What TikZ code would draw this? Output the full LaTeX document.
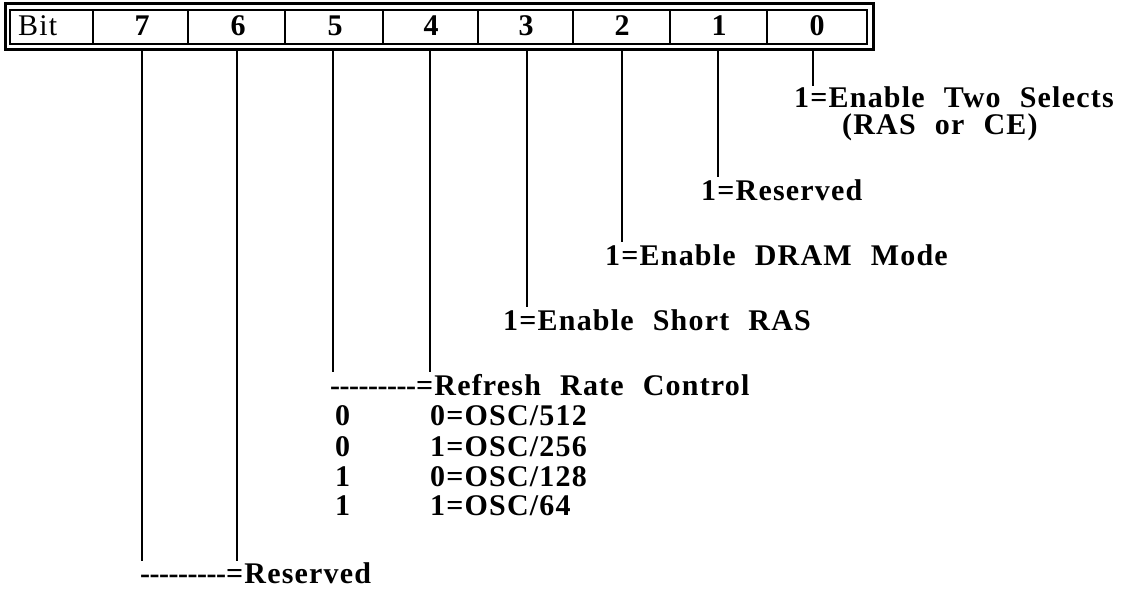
\documentclass[tikz,border=0pt]{standalone}
\usepackage{fontspec}
\newfontfamily\rfont{Liberation Serif}[LetterSpace=4,WordSpace=2.2]
\newcommand\hy{\mbox{-}\hspace{-0.5pt}}
\newcommand\dashes{\hy\hy\hy\hy\hy\hy\hy\hy\mbox{-}}
\begin{document}
\begin{tikzpicture}[x=1pt,y=-1pt,
  txt/.style={anchor=base west,inner sep=0pt,font=\rfont\bfseries\fontsize{30}{32}\selectfont},
  hd/.style={anchor=base,inner sep=0pt,font=\rfont\bfseries\fontsize{30}{32}\selectfont},
  wire/.style={line width=2pt},
  cell/.style={line width=1.8pt}]
\useasboundingbox (0,0) rectangle (1134,591);
% register box
\draw[line width=3pt] (5,4) rectangle (873,50);
\draw[line width=1.4pt] (10,10) rectangle (867,44);
\foreach \x in {93,188,285,383,478,573,670,767}{\draw[cell] (\x,10) -- (\x,44);}
\node[txt,font=\rfont\fontsize{30}{32}\selectfont] (hbit) at (18,36) {Bit};
\node[hd] (h7) at (142,36) {7};
\node[hd] (h6) at (238,36) {6};
\node[hd] (h5) at (335,36) {5};
\node[hd] (h4) at (431,36) {4};
\node[hd] (h3) at (526,36) {3};
\node[hd] (h2) at (622,36) {2};
\node[hd] (h1) at (719,36) {1};
\node[hd] (h0) at (817,36) {0};
% line start points
\foreach \n/\x in {7/142,6/237,5/333,4/430,3/527,2/622,1/718,0/813}{\coordinate (s\n) at (\x,50);}
% labels
\node[txt] (t0) at (794,107) {1=Enable Two Selects};
\node[txt] (t0b) at (842,135) {(RAS or CE)};
\node[txt] (t1) at (701,200) {1=Reserved};
\node[txt] (t2) at (605,265) {1=Enable DRAM Mode};
\node[txt] (t3) at (503,330) {1=Enable Short RAS};
\node[txt] (t54) at (330,395) {\dashes=Refresh Rate Control};
\node[txt] (r1a) at (335,425) {0};
\node[txt] (r1b) at (430,425) {0=OSC/512};
\node[txt] (r2a) at (335,456) {0};
\node[txt] (r2b) at (430,456) {1=OSC/256};
\node[txt] (r3a) at (335,486) {1};
\node[txt] (r3b) at (430,486) {0=OSC/128};
\node[txt] (r4a) at (335,515) {1};
\node[txt] (r4b) at (430,515) {1=OSC/64};
\node[txt] (t76) at (140,583) {\dashes=Reserved};
% line end points
\coordinate (e0) at (813,86);
\coordinate (e1) at (718,177);
\coordinate (e2) at (622,242);
\coordinate (e3) at (527,307);
\coordinate (e4) at (430,372);
\coordinate (e5) at (333,372);
\coordinate (e6) at (237,561);
\coordinate (e7) at (142,561);
\foreach \n in {0,...,7}{\draw[wire] (s\n) -- (e\n);}
\end{tikzpicture}
\end{document}
